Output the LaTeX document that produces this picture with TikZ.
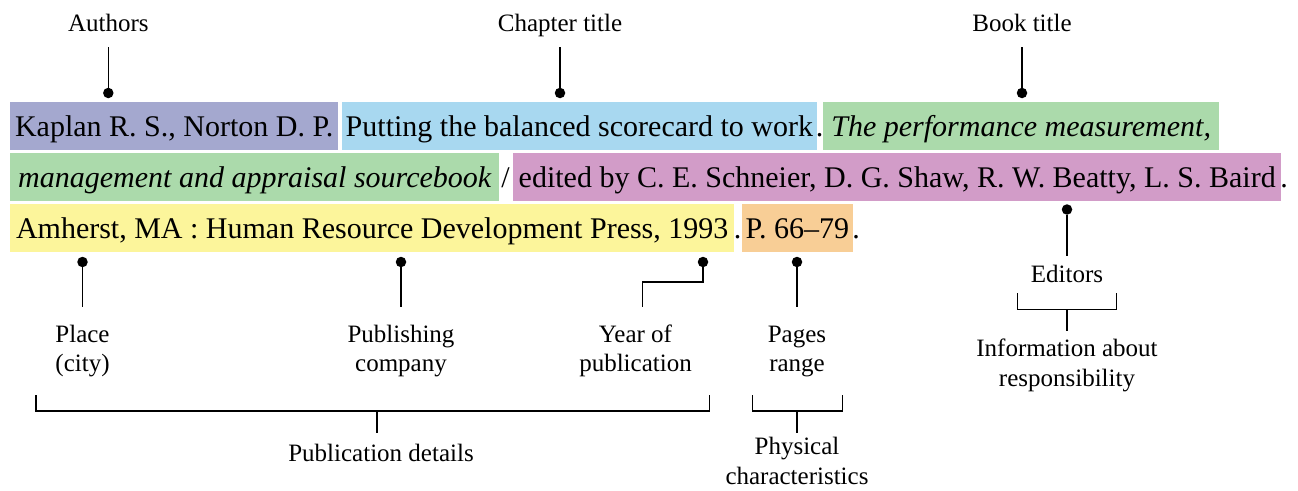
\documentclass[tikz,border=0pt]{standalone}
\usepackage{fontspec}
\setmainfont{Liberation Serif}
\definecolor{cAuth}{HTML}{A4A8CF}
\definecolor{cChap}{HTML}{A8D8F0}
\definecolor{cBook}{HTML}{ABDAAB}
\definecolor{cEdit}{HTML}{D29CC8}
\definecolor{cPubl}{HTML}{FCF59B}
\definecolor{cPage}{HTML}{F8CE96}
\begin{document}
\begin{tikzpicture}[x=1pt,y=-1pt,
  seg/.style={anchor=north west, inner sep=0pt, minimum height=48pt,
    text height=25pt, text depth=5pt, font=\fontsize{30}{36}\selectfont},
  sepmark/.style={anchor=base, inner sep=0pt, font=\fontsize{30}{36}\selectfont},
  toplab/.style={anchor=base, inner sep=0pt, text height=18pt, text depth=6pt,
    font=\fontsize{25}{30}\selectfont},
  botlab/.style={anchor=north, inner sep=0pt, align=center,
    font=\fontsize{25}{29.5}\selectfont},
  dotnode/.style={circle, fill=black, inner sep=0pt, minimum size=10.5pt},
  conn/.style={draw=black, line width=1.3pt},
]
\useasboundingbox (0,0) rectangle (1298,490);

% coloured segments
\node[seg, fill=cAuth, minimum width=328pt] (sAuth) at (10,102) {Kaplan R. S., Norton D. P.};
\node[seg, fill=cChap, minimum width=475pt] (sChap) at (341.7,102) {Putting the balanced scorecard to work};
\node[sepmark] (p1) at (819.5,136) {.};
\node[seg, fill=cBook, minimum width=396pt] (sBook1) at (823,102) {\itshape The performance measurement,};
\node[seg, fill=cBook, minimum width=489pt] (sBook2) at (10,153) {\itshape management and appraisal sourcebook};
\node[sepmark] (sl) at (505.5,187) {/};
\node[seg, fill=cEdit, minimum width=768pt] (sEdit) at (513,153) {\hspace*{-2.5pt}edited by C. E. Schneier, D. G. Shaw, R. W. Beatty, L. S. Baird\hspace*{-2.5pt}};
\node[sepmark] (p2) at (1284,187) {.};
\node[seg, fill=cPubl, minimum width=724pt] (sPubl) at (10,204) {Amherst, MA : Human Resource Development Press, 1993};
\node[sepmark] (p3) at (737.5,238) {.};
\node[seg, fill=cPage, minimum width=111pt] (sPage) at (741.7,204) {P. 66--79};
\node[sepmark] (p4) at (856,238) {.};

% dots
\node[dotnode] (dA) at (108.3,93) {};
\node[dotnode] (dC) at (560,93) {};
\node[dotnode] (dB) at (1022,93) {};
\node[dotnode] (dE) at (1067,209.5) {};
\node[dotnode] (dPl) at (82.5,262) {};
\node[dotnode] (dPu) at (401,262) {};
\node[dotnode] (dY) at (703,262) {};
\node[dotnode] (dPg) at (797,262) {};

% top labels
\node[toplab] (lA) at (108.3,31.7) {Authors};
\node[toplab] (lC) at (560,31.7) {Chapter title};
\node[toplab] (lB) at (1022,31.7) {Book title};
\draw[conn, shorten <=9.3pt] (lA.south) -- (dA);
\draw[conn, shorten <=9.3pt] (lC.south) -- (dC);
\draw[conn, shorten <=9.3pt] (lB.south) -- (dB);

% editors
\node[toplab] (lE) at (1067,282.3) {Editors};
\draw[conn, shorten >=8.6pt] (dE) -- (lE.north);
\coordinate (ebL) at (1017.5,293.3);
\coordinate (ebR) at (1116.7,293.3);
\coordinate (ebM) at (1067,309.3);
\draw[conn] (ebL) -- ++(0,16) -| (ebR);
\node[botlab] (lR) at (1067,339) {Information about\\responsibility};
\draw[conn, shorten >=8pt] (ebM) -- (ebM |- lR.north);

% bottom labels
\node[botlab] (lPl) at (82.5,324.6) {Place\\(city)};
\node[botlab] (lPu) at (401,324.6) {Publishing\\company};
\node[botlab] (lY) at (635.5,324.6) {Year of\\publication};
\node[botlab] (lPg) at (797,325.8) {Pages\\range};
\draw[conn, shorten >=17.6pt] (dPl) -- (lPl.north);
\draw[conn, shorten >=17.6pt] (dPu) -- (lPu.north);
\draw[conn, shorten >=17.6pt] (dY) -- ++(0,20) -| ([xshift=7.2pt]lY.north);
\draw[conn, shorten >=18.8pt] (dPg) -- (lPg.north);

% publication details bracket
\coordinate (pbL) at (36,395);
\coordinate (pbR) at (709.3,395);
\coordinate (pbM) at (377,411);
\draw[conn] (pbL) -- ++(0,16) -| (pbR);
\node[toplab] (lPD) at (381,461) {Publication details};
\draw[conn, shorten >=10pt] (pbM) -- (pbM |- lPD.north);

% physical characteristics bracket
\coordinate (gbL) at (752.3,395);
\coordinate (gbR) at (842.7,395);
\coordinate (gbM) at (797,411);
\draw[conn] (gbL) -- ++(0,16) -| (gbR);
\node[botlab] (lPh) at (797,437) {Physical\\characteristics};
\draw[conn, shorten >=4pt] (gbM) -- (lPh.north);
\end{tikzpicture}
\end{document}
